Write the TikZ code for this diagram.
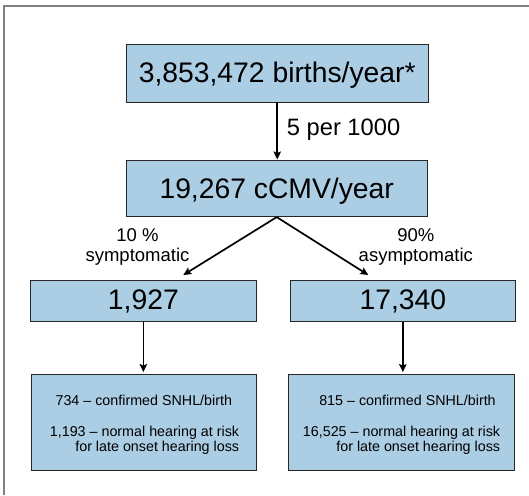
\documentclass[tikz,border=0pt]{standalone}
\usepackage{fontspec}
\setmainfont{Liberation Sans}
\usetikzlibrary{arrows.meta}
\definecolor{boxblue}{RGB}{172,206,228}
\definecolor{framegray}{RGB}{128,128,128}
\begin{document}
\begin{tikzpicture}[x=1pt,y=-1pt,
  box/.style={draw=black!85, line width=0.9pt, fill=boxblue, rectangle, inner sep=0pt},
  bigtext/.style={font=\fontsize{28.3}{32}\selectfont, text height=20pt},
  arr/.style={line width=1.7pt, -{Stealth[length=8pt,width=7.5pt,inset=1.5pt]}},
  small/.style={font=\fontsize{14.3}{15}\selectfont, inner sep=0pt},
  lab/.style={font=\fontsize{18.5}{20}\selectfont, align=center, inner sep=0pt}]
\useasboundingbox (0,0) rectangle (529,495);
\draw[framegray, line width=2pt] (529,5.7) -- (4,5.7) -- (4,495);

\node[box,bigtext,text depth=1.9pt,minimum width=301.5pt,minimum height=57.5pt] (births) at (277.25,73.25) {3,853,472 births/year*};
\node[box,bigtext,text depth=0pt,minimum width=301.3pt,minimum height=56.7pt] (cmv) at (276.7,188.3) {19,267 cCMV/year};
\node[box,bigtext,text depth=3.4pt,minimum width=225.3pt,minimum height=41.7pt] (sym) at (143.35,301) {1,927};
\node[box,bigtext,text depth=3.4pt,minimum width=225.7pt,minimum height=41.7pt] (asym) at (402.85,301) {17,340};
\node[box,minimum width=225pt,minimum height=96pt] (symout) at (143.5,422) {};
\node[box,minimum width=226.3pt,minimum height=96pt] (asymout) at (401.15,422) {};

\node[small,anchor=base] (s1) at (143.8,405) {734 – confirmed SNHL/birth};
\node[small,anchor=base east] (s2) at (239.3,436.7) {1,193 – normal hearing at risk};
\node[small,anchor=base east] (s3) at (239.3,451.7) {for late onset hearing loss};
\node[small,anchor=base] (a1) at (407.5,405) {815 – confirmed SNHL/birth};
\node[small,anchor=base east] (a2) at (500.3,436.7) {16,525 – normal hearing at risk};
\node[small,anchor=base east] (a3) at (500.3,451.7) {for late onset hearing loss};

\draw[arr] (births.south) -- (births.south |- cmv.north);
\node[font=\fontsize{23.7}{26}\selectfont, anchor=base west, inner sep=0pt] (rate) at (286.7,135) {5 per 1000};

\coordinate (tipL) at (183.3,275);
\coordinate (tipR) at (368.3,275);
\draw[arr] (cmv.south) -- (tipL);
\draw[arr] (cmv.south) -- (tipR);
\node[lab,anchor=base] (l10) at (137.5,261.7) {10 \%\\symptomatic};
\node[lab,anchor=base] (l90) at (415.8,261.7) {90\%\\asymptomatic};

\draw[arr, shorten >=1.5pt] (sym.south) -- (sym.south |- symout.north);
\draw[arr, shorten >=1.5pt] (asym.south) -- (asym.south |- asymout.north);
\end{tikzpicture}
\end{document}
